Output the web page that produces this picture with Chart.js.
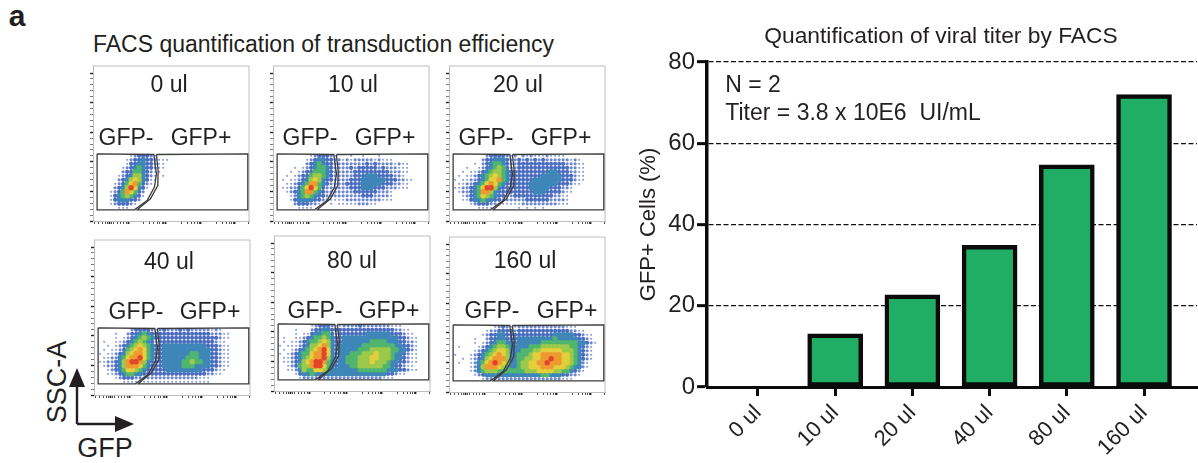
<!DOCTYPE html>
<html>
<head>
<meta charset="utf-8">
<title>Viral titer by FACS</title>
<script src="https://cdn.jsdelivr.net/npm/chart.js@4"></script>
<style>
  html, body { margin: 0; padding: 0; background: #fff; }
  #page { position: relative; width: 1198px; height: 463px; overflow: hidden; font-family: "Liberation Sans", Arial, sans-serif; color: #231f20; }
  #page canvas { position: absolute; }
  .txt { position: absolute; white-space: pre; transform: translate(-50%, -50%); line-height: 1; }
  svg { position: absolute; left: 0; top: 0; }
</style>
</head>
<body>
<div id="page">
  <svg width="1198" height="463">
    <path d="M77 424H116M77 424V386" stroke="#231f20" stroke-width="2.4" fill="none"/>
    <path d="M134 424L115 416V432Z M77 368L69 387H85Z" fill="#231f20"/>
  </svg>
</div>
<script>
// bar chart values
const barCategories = ['0 ul', '10 ul', '20 ul', '40 ul', '80 ul', '160 ul'];
const barValues = [0, 13.1, 22.7, 34.9, 54.7, 72];
const barTicks = [0, 20, 40, 60, 80];

// FACS panels: density, one string per row of the gate, one digit per column
// 0 = empty, 1-3 = blue, 4 = teal, 5 = green, 6-7 = yellow, 8 = orange, 9 = red
const density0 = [
  '000000001233321',
  '000000012334332111',
  '00000001334433211',
  '00000012345433211',
  '0000002335543211',
  '00000123466432101',
  '000002346764311',
  '00001235785321',
  '0000234697431',
  '000123587532',
  '000134565431',
  '00013444332',
  '0001233321',
  '00000111'
];
const density10 = [
  '00000000123332100010010001',
  '00000001234433221212222212111',
  '000000023454332222222232322221211',
  '000010123455432222323333323222111',
  '000101233555432222233333333322211',
  '00101233566543222223334443333221',
  '0101123467643322223334444443332211',
  '001123458854322223333444443332211',
  '011223579753222222333444333222111',
  '00123458854322222223333332221',
  '00012456543322222222233322221',
  '00013444433221111222222222111',
  '0000233322110101111122211',
  '000001111'
];
const density20 = [
  '00000000233332120212111211110',
  '00000002334443223232323222222121',
  '000001023455432233333333333322211',
  '000100123456532233333333333332211',
  '001011234566543333333333443332211',
  '010112345676543333333344444333211',
  '101122345778543333334444444333211',
  '011223457875433333344444443332110',
  '112234579964333333344444333221',
  '012234588643333333334443333211',
  '00123457654332233333333332211',
  '00113445443322222233333322221',
  '00001233322111111222222222111',
  '000000111100000010101010'
];
const density40 = [
  '0000000023333212322232322222121',
  '000010023345433333333333333322211',
  '000010123456543333333333333333211',
  '010011234565432333333333333332110',
  '001012345676543344444444444333211',
  '010112356787543344444444444433211',
  '101123467887543344444445544433211',
  '011224578897543344444455544433211',
  '112234689986433344444556554433211',
  '012234688875433344444555444433211',
  '00123457765433333444444444333211',
  '0011234554433333333333333332211',
  '00001233322222222222222221110',
  '00000011111111111111111111110'
];
const density80 = [
  '00000000123332112222322222221110',
  '00001000233443333333333333333221100',
  '00001011344553233333334444443332110',
  '01001123455654334444444444444433211',
  '01011234556764334444444555544433221',
  '10111234667864344444455555555443321',
  '01012345678974344444555666665544321',
  '10123455788974344455566676665443211',
  '01123456788964344555666776665443211',
  '01123467899854344555666766654433211',
  '00123566899754344455666666554332110',
  '001124655776544444445555555444332110',
  '00001344544444444444444444433211000',
  '000001222222222222222222221110'
];
const density160 = [
  '00000000001232112222222222221110',
  '0000000012233332333333333333322110',
  '00000001233443333333333334444433211',
  '00000100233443334444444445444443321',
  '000001012345544344444455555555544321',
  '01000012345665444445556666666554321',
  '00000123456776444555667777766654321',
  '10001234567876445556778888877654321',
  '00101234678886445566778898877654321',
  '01001245789876445667788988877654210',
  '00001246888765445667778887776544210',
  '00001245666555555566677776655432100',
  '00000123444444444444445544433221000',
  '00000001222222222222222222211100'
];

// gate outlines in the same row/column units as the density strings
const gateNegX = [-0.5, 13.67, 14.08, 14.33, 13.83, 12, 8.83, -0.5, -0.5];
const gateNegY = [-0.5, -0.33, 2.83, 4.5, 7.83, 11.17, 13.5, 13.5, -0.5];
const gatePosX = [14.33, 37.17, 37.17, 9.5, 12.83, 14.67, 14.75, 14.33];
const gatePosY = [-0.33, -0.5, 13.5, 13.5, 10.75, 7.42, 3.67, -0.33];

// FACS axis tick positions, same units
const facsXMinor = [-1.08, -0.08, 0.75, 1.58, 2.17, 3.17, 3.67, 4.5, 5.33, 6.17, 6.83, 11.17, 12.58, 13.67, 14.5, 15.17, 15.75, 16.17, 20.5, 22, 23, 23.83, 24.5, 25, 29.25, 30.75, 31.75, 32.58, 33.17, 33.58, 37.25];
const facsXMajor = [2.67, 7.25, 16.58, 25.33, 33.92];
const facsYMajor = [16.3, 8.9, 1.5, -5.9, -13.3, -20.7];
const facsYMinor = [14.82, 13.34, 11.86, 10.38, 7.42, 5.94, 4.46, 2.98, 0.02, -1.46, -2.94, -4.42, -7.38, -8.86, -10.34, -11.82, -14.78, -16.26, -17.74, -19.22];

const densityColors = ['', '#8ea3dc', '#6c87cf', '#4a6cbf', '#3f86b8', '#4fb56f', '#9cc94a', '#e3cf3b', '#ee9a30', '#e2452a'];
const densitySizes = [0, 1.1, 1.6, 2.1, 2.7, 2.7, 2.7, 2.7, 2.7, 2.7];

const page = document.getElementById('page');

function addText(str, x, y, size, bold) {
  const d = document.createElement('div');
  d.className = 'txt';
  d.textContent = str;
  d.style.left = x + 'px';
  d.style.top = y + 'px';
  d.style.fontSize = size + 'px';
  if (bold) d.style.fontWeight = 'bold';
  page.appendChild(d);
  return d;
}

function addCanvas(x, y, w, h) {
  const c = document.createElement('canvas');
  c.width = w;
  c.height = h;
  c.style.left = x + 'px';
  c.style.top = y + 'px';
  c.style.width = w + 'px';
  c.style.height = h + 'px';
  page.appendChild(c);
  return c;
}

const framePlugin = {
  id: 'frame',
  beforeDatasetsDraw(chart) {
    const a = chart.chartArea, ctx = chart.ctx;
    ctx.save();
    ctx.strokeStyle = '#bdbdbd';
    ctx.lineWidth = 1;
    ctx.beginPath();
    ctx.moveTo(a.left, a.top);
    ctx.lineTo(a.right, a.top);
    ctx.lineTo(a.right, a.bottom);
    ctx.stroke();
    ctx.restore();
  }
};

function drawPanel(rows, frameX, frameY) {
  let pts = [];
  rows.forEach((row, r) => {
    for (let c = 0; c < row.length; c++) {
      if (row[c] !== '0') pts.push({ x: c, y: r, d: Number(row[c]) });
    }
  });
  pts.sort((a, b) => a.d - b.d);

  const canvas = addCanvas(frameX - 8, frameY - 1, 165, 164);
  new Chart(canvas.getContext('2d'), {
    type: 'scatter',
    data: {
      datasets: [
        { data: gateNegX.map((x, i) => ({ x: x, y: gateNegY[i] })), showLine: true, borderColor: '#3c3c3c', borderWidth: 1.3, pointRadius: 0, order: 0 },
        { data: gatePosX.map((x, i) => ({ x: x, y: gatePosY[i] })), showLine: true, borderColor: '#3c3c3c', borderWidth: 1.3, pointRadius: 0, order: 0 },
        { data: pts, pointRadius: pts.map(p => densitySizes[p.d]), pointBorderWidth: 0, pointBackgroundColor: pts.map(p => densityColors[p.d]), order: 1 }
      ]
    },
    options: {
      responsive: false,
      animation: false,
      events: [],
      layout: { autoPadding: false, padding: { top: 1, right: 1 } },
      plugins: { legend: { display: false }, tooltip: { enabled: false } },
      scales: {
        x: {
          type: 'linear', min: -1.53, max: 37.47,
          afterBuildTicks: s => { s.ticks = facsXMinor.concat(facsXMajor).map(v => ({ value: v, major: facsXMajor.includes(v) })); },
          afterFit: s => { s.height = 8; },
          ticks: { display: false, autoSkip: false },
          border: { color: '#bdbdbd', width: 1 },
          grid: { drawOnChartArea: false, tickLength: 3, tickColor: '#222', tickWidth: ctx => ctx.tick && ctx.tick.major ? 1.8 : 0.8 }
        },
        y: {
          type: 'linear', reverse: true, min: -22.45, max: 16.3,
          afterBuildTicks: s => { s.ticks = facsYMinor.concat(facsYMajor).map(v => ({ value: v, major: facsYMajor.includes(v) })); },
          afterFit: s => { s.width = 8; },
          ticks: { display: false, autoSkip: false },
          border: { color: '#bdbdbd', width: 1 },
          grid: { drawOnChartArea: false, tickLength: 3, tickColor: '#222', tickWidth: ctx => ctx.tick && ctx.tick.major ? 1.4 : 0.6 }
        }
      }
    },
    plugins: [framePlugin]
  });
}

drawPanel(density0, 93, 66);
drawPanel(density10, 273, 66);
drawPanel(density20, 449, 66);
drawPanel(density40, 94, 240);
drawPanel(density80, 274, 236);
drawPanel(density160, 449, 237);

// bar chart
const barCanvas = addCanvas(630, 0, 568, 463);
new Chart(barCanvas.getContext('2d'), {
  type: 'bar',
  data: {
    datasets: [{
      data: barValues.map((v, i) => ({ x: i, y: v })),
      backgroundColor: '#1fae64',
      borderColor: '#0b0b0b',
      borderWidth: 4.5,
      borderSkipped: false,
      barThickness: 55
    }]
  },
  options: {
    responsive: false,
    animation: false,
    events: [],
    layout: { autoPadding: false, padding: { top: 62, right: 1 } },
    plugins: { legend: { display: false }, tooltip: { enabled: false } },
    scales: {
      x: {
        type: 'linear', min: -0.66, max: 5.686, offset: false,
        afterBuildTicks: s => { s.ticks = barCategories.map((c, i) => ({ value: i })); },
        afterFit: s => { s.height = 76; },
        ticks: {
          autoSkip: false, minRotation: 45, maxRotation: 45, padding: 4,
          color: '#231f20', font: { family: 'Liberation Sans', size: 22 },
          callback: v => barCategories[v]
        },
        border: { color: '#0b0b0b', width: 3 },
        grid: { offset: false, drawOnChartArea: false, tickLength: 9, tickWidth: 3, tickColor: '#0b0b0b' }
      },
      y: {
        min: 0, max: 80,
        afterBuildTicks: s => { s.ticks = barTicks.map(v => ({ value: v })); },
        afterFit: s => { s.width = 77; },
        ticks: { padding: 2, color: '#231f20', font: { family: 'Liberation Sans', size: 24 } },
        border: { color: '#0b0b0b', width: 3.5, dash: [5, 2.5] },
        grid: { color: '#111', lineWidth: 1.3, tickLength: 10, tickWidth: 3, tickColor: '#0b0b0b' },
        title: { display: true, text: 'GFP+ Cells (%)', color: '#231f20', padding: 6, font: { family: 'Liberation Sans', size: 22 } }
      }
    }
  }
});

// text around the charts
addText('a', 17, 16, 30, true);
addText('FACS quantification of transduction efficiency', 323.5, 44, 23);
addText('Quantification of viral titer by FACS', 941, 35, 22.8);
addText('N = 2', 753, 84, 23);
addText('Titer = 3.8 x 10E6  UI/mL', 853, 112, 23);

const panelNames = ['0 ul', '10 ul', '20 ul', '40 ul', '80 ul', '160 ul'];
const panelLabelSpots = [
  [169, 84, 126, 201, 137], [353, 84, 310, 385, 137], [518, 84, 486, 561, 137],
  [169, 261, 136, 210, 311], [352, 260, 315, 389, 310], [525, 260, 492, 567, 310]
];
panelNames.forEach((n, i) => {
  const s = panelLabelSpots[i];
  addText(n, s[0], s[1], 23);
  addText('GFP-', s[2], s[4], 23);
  addText('GFP+', s[3], s[4], 23);
});

addText('GFP', 105, 448, 27);
addText('SSC-A', 57, 382, 27).style.transform = 'translate(-50%, -50%) rotate(-90deg)';
</script>
</body>
</html>
